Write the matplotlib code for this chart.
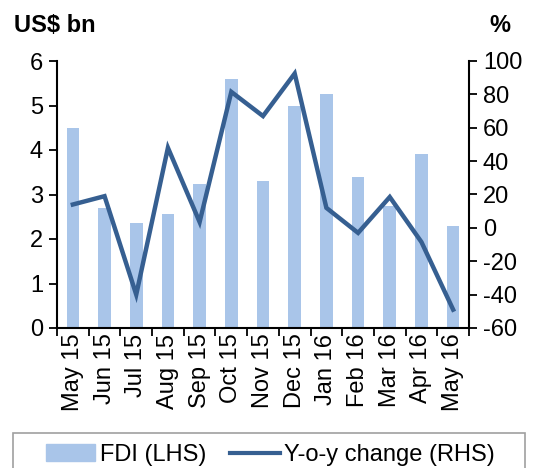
import matplotlib.pyplot as plt
from matplotlib.patches import Rectangle
from matplotlib.lines import Line2D

plt.rcParams['font.family'] = ['Liberation Sans', 'DejaVu Sans']
plt.rcParams['axes.unicode_minus'] = False

months = ['May 15', 'Jun 15', 'Jul 15', 'Aug 15', 'Sep 15', 'Oct 15', 'Nov 15',
          'Dec 15', 'Jan 16', 'Feb 16', 'Mar 16', 'Apr 16', 'May 16']
fdi = [4.5, 2.7, 2.35, 2.57, 3.23, 5.6, 3.3, 5.0, 5.25, 3.4, 2.75, 3.9, 2.3]
yoy = [14, 19, -40, 48, 3.5, 81.5, 67, 92.5, 12, -3, 18.5, -8.5, -49]

bar_color = '#a9c5e9'
line_color = '#365f91'
fs = 17

fig = plt.figure(figsize=(5.34, 4.68), dpi=100)
ax = fig.add_axes([57 / 534, 1 - 328 / 468, 412 / 534, 267 / 468])
ax2 = ax.twinx()

x = range(len(months))
ax.bar(x, fdi, width=0.4, color=bar_color, zorder=1)
ax2.plot(x, yoy, color=line_color, lw=3.2, solid_joinstyle='miter', zorder=3)

ax.set_xlim(-0.5, len(months) - 0.5)
ax.set_ylim(0, 6)
ax.set_yticks(range(0, 7))
ax2.set_ylim(-60, 100)
ax2.set_yticks(range(-60, 101, 20))

# category ticks sit on the boundaries, labels at the centres
ax.set_xticks([i - 0.5 for i in range(len(months) + 1)])
ax.set_xticklabels([])
ax.set_xticks(list(x), minor=True)
ax.set_xticklabels(months, minor=True, rotation=90, fontsize=fs)
ax.tick_params(axis='x', which='minor', length=0, pad=4)
ax.tick_params(axis='x', which='major', direction='out', length=6, width=1.3)
ax.tick_params(axis='y', direction='out', length=6, width=1.3, labelsize=fs, pad=4)
ax2.tick_params(axis='y', direction='out', length=6, width=1.3, labelsize=fs, pad=4)

for a in (ax, ax2):
    a.spines['top'].set_visible(False)
    for s in ('left', 'right', 'bottom'):
        a.spines[s].set_linewidth(1.5)
ax.spines['right'].set_visible(False)
ax2.spines['bottom'].set_visible(False)
ax2.spines['left'].set_visible(False)

fig.text(14 / 534, 1 - 25 / 468, 'US$ bn', fontsize=fs, fontweight='bold', va='center', ha='left')
fig.text(500 / 534, 1 - 25 / 468, '%', fontsize=fs, fontweight='bold', va='center', ha='center')

# legend box, partly cut off by the figure edge as in the source
fig.patches.append(Rectangle((13 / 534, -0.05), 512 / 534, 0.05 + 35 / 468,
                             transform=fig.transFigure, fill=False,
                             edgecolor='#a0a0a0', lw=1.2))
handles = [Rectangle((0, 0), 1, 1, color=bar_color),
           Line2D([], [], color=line_color, lw=3)]
fig.legend(handles, ['FDI (LHS)', 'Y-o-y change (RHS)'], loc='center left',
           bbox_to_anchor=(34 / 534, 1 - 455 / 468), ncol=2, frameon=False, fontsize=fs,
           handlelength=2.1, handletextpad=0.2, columnspacing=1.0, borderpad=0)

fig.savefig('out.png', dpi=100)
